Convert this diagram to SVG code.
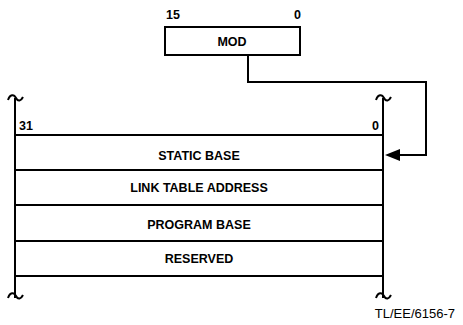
<svg xmlns="http://www.w3.org/2000/svg" width="463" height="325" viewBox="0 0 463 325">
<style>
.ln{stroke:#000;stroke-width:2;fill:none}
.t{font-family:"Liberation Sans",Arial,sans-serif;font-weight:bold;font-size:12.5px;fill:#000}
.m{text-anchor:middle}
.e{text-anchor:end}
</style>
<rect width="463" height="325" fill="#fff"/>
<g id="mod">
<text class="t" x="166" y="19">15</text>
<text class="t e" x="301" y="19">0</text>
<rect class="ln" x="165" y="27" width="135" height="28"/>
<text class="t m" x="232" y="46">MOD</text>
</g>
<g id="register">
<path class="ln" d="M15,98 V298 M383,98 V298"/>
<path class="ln" d="M8,100 C10,94 14,94 16,98 C18,102 21,101 23,97"/>
<path class="ln" d="M376,100 C378,94 382,94 384,98 C386,102 389,101 391,97"/>
<path class="ln" d="M8,298 C10,292 14,292 16,296 C18,300 21,299 23,295"/>
<path class="ln" d="M376,298 C378,292 382,292 384,296 C386,300 389,299 391,295"/>
<text class="t" x="19" y="130">31</text>
<text class="t e" x="379" y="130">0</text>
<path class="ln" d="M15,135 H383 M15,170 H383 M15,205 H383 M15,241 H383 M15,276 H383"/>
</g>
<g id="static-base"><text class="t m" x="199" y="160">STATIC BASE</text></g>
<g id="link-table"><text class="t m" x="199" y="192">LINK TABLE ADDRESS</text></g>
<g id="program-base"><text class="t m" x="199" y="229">PROGRAM BASE</text></g>
<g id="reserved"><text class="t m" x="199" y="263">RESERVED</text></g>
<g id="connectors">
<path class="ln" d="M248,55 V82 H426 V155 H398"/>
<polygon points="385,155 400,149 400,161" fill="#000"/>
</g>
<text x="455" y="318" text-anchor="end" style="font-family:'Liberation Sans',Arial,sans-serif;font-size:13px">TL/EE/6156-7</text>
</svg>
